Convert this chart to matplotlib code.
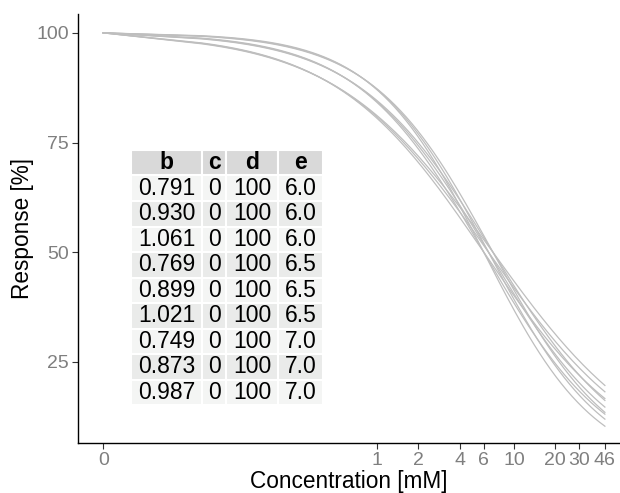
import numpy as np
import matplotlib.pyplot as plt

plt.rcParams['font.family'] = ['Liberation Sans', 'DejaVu Sans']

# fitted log-logistic parameters (one curve per row)
b = [0.791, 0.930, 1.061, 0.769, 0.899, 1.021, 0.749, 0.873, 0.987]
c = [0, 0, 0, 0, 0, 0, 0, 0, 0]
d = [100, 100, 100, 100, 100, 100, 100, 100, 100]
e = [6.0, 6.0, 6.0, 6.5, 6.5, 6.5, 7.0, 7.0, 7.0]

xticks = [0.01, 1, 2, 4, 6, 10, 20, 30, 46]
xticklabels = ["0", "1", "2", "4", "6", "10", "20", "30", "46"]
yticks = [25, 50, 75, 100]

# dose 0 is drawn at 0.01 on the log axis, then a log grid up to the max dose
dose = np.concatenate([[0.01], np.logspace(np.log10(0.05), np.log10(46), 150)])
dose_eval = dose.copy()
dose_eval[0] = 0.0

fig = plt.figure(figsize=(6.2, 4.93), dpi=100)
ax = fig.add_axes([78/620, 50/493, 542/620, 429/493])

for bi, ci, di, ei in zip(b, c, d, e):
    with np.errstate(divide="ignore"):
        resp = ci + (di - ci) / (1 + np.exp(bi * (np.log(dose_eval) - np.log(ei))))
    ax.plot(dose, resp, color="#BEBEBE", lw=0.9)

ax.set_xscale("log")
ax.set_xlim(10**-2.184, 10**1.773)
ax.set_ylim(6.5, 104.3)
ax.set_xticks(xticks)
ax.set_xticklabels(xticklabels)
ax.minorticks_off()
ax.set_yticks(yticks)
ax.tick_params(colors="#333333", labelcolor="#7F7F7F", labelsize=14, length=4, width=0.8, pad=2.5)
for s in ["top", "right"]:
    ax.spines[s].set_visible(False)
for s in ["left", "bottom"]:
    ax.spines[s].set_linewidth(1.0)
ax.set_xlabel("Concentration [mM]", fontsize=16.3, labelpad=1)
ax.set_ylabel("Response [%]", fontsize=16.3, labelpad=2)

# parameter table
rows = [[f"{bi:.3f}", f"{ci}", f"{di}", f"{ei:.1f}"] for bi, ci, di, ei in zip(b, c, d, e)]
tab = ax.table(cellText=rows, colLabels=["b", "c", "d", "e"],
               colWidths=[71, 24, 51, 45],
               cellLoc="center", bbox=[53/542, 38/429, 192/542, 255/429])
tab.auto_set_font_size(False)
tab.set_fontsize(16.5)
for (r, col), cell in tab.get_celld().items():
    cell.set_edgecolor("white")
    cell.set_linewidth(1.5)
    if r == 0:
        cell.set_facecolor("#D9D9D9")
        cell.get_text().set_fontweight("bold")
    else:
        cell.set_facecolor("#F4F5F4" if r % 2 == 1 else "#EAEBEA")

fig.savefig("out.png", dpi=100)
